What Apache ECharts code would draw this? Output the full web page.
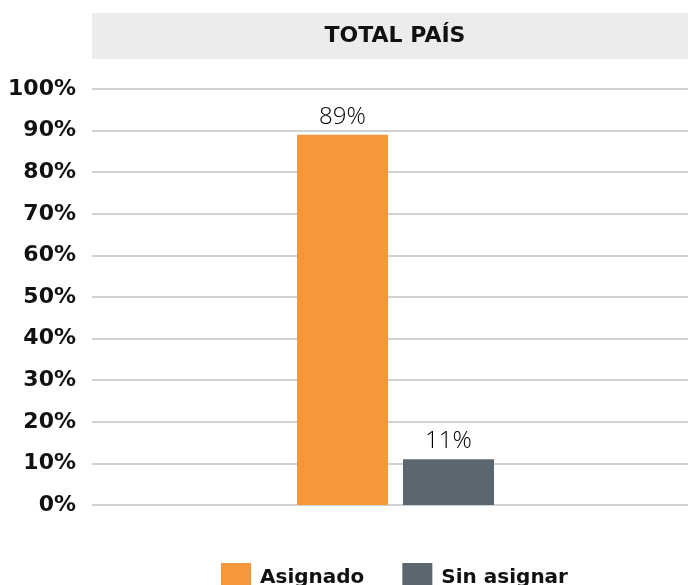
<!DOCTYPE html>
<html>
<head>
<meta charset="utf-8">
<script src="https://cdn.jsdelivr.net/npm/echarts@6/dist/echarts.min.js"></script>
<style>
  html, body { margin: 0; padding: 0; background: #fff; }
  #chart { width: 688px; height: 585px; }
</style>
</head>
<body>
<div id="chart"></div>
<script>
// data
const categories = ["TOTAL PAÍS"];
const seriesNames = ["Asignado", "Sin asignar"];
const asignado = [89];
const sinAsignar = [11];
const yTicks = { min: 0, max: 100, step: 10 };

const colors = ["#f7963a", "#5b6770"];
const boldFont = "DejaVu Sans";

let myChart = echarts.init(document.getElementById("chart"));

let barLabel = {
  show: true,
  position: "top",
  distance: 6,
  formatter: "{c}%",
  color: "#000",
  fontFamily: "Open Sans",
  fontWeight: 300,
  fontSize: 24,
};

// grid 0 carries the y labels and grid lines, grid 1 the bars (shifted a bit right)
let option = {
  animation: false,
  color: colors,
  graphic: [
    {
      type: "rect",
      left: 92,
      top: 13,
      shape: { width: 596, height: 46 },
      style: { fill: "#ebecee" },
      z: 0,
    },
    {
      type: "text",
      x: 395,
      y: 36,
      style: {
        text: categories[0],
        fill: "#111",
        font: "bold 22px " + boldFont,
        textAlign: "center",
        textVerticalAlign: "middle",
      },
      z: 1,
    },
  ],
  legend: {
    data: seriesNames,
    left: 216,
    top: 558,
    itemWidth: 30,
    itemHeight: 30,
    itemGap: 38,
    icon: "rect",
    textStyle: {
      fontFamily: boldFont,
      fontWeight: "bold",
      fontSize: 20,
      color: "#111",
      padding: [0, 0, 0, 4],
    },
  },
  grid: [
    { left: 92, right: 0, top: 89, bottom: 80 },
    { left: 103, right: 0, top: 89, bottom: 80 },
  ],
  xAxis: [
    {
      type: "category",
      gridIndex: 0,
      data: categories,
      axisLine: { show: false },
      axisTick: { show: false },
      axisLabel: { show: false },
    },
    {
      type: "category",
      gridIndex: 1,
      data: categories,
      axisLine: { show: false },
      axisTick: { show: false },
      axisLabel: { show: false },
    },
  ],
  yAxis: [
    {
      type: "value",
      gridIndex: 0,
      min: yTicks.min,
      max: yTicks.max,
      interval: yTicks.step,
      axisLine: { show: false },
      axisTick: { show: false },
      axisLabel: {
        formatter: "{value}%",
        margin: 16,
        fontFamily: boldFont,
        fontWeight: "bold",
        fontSize: 22,
        color: "#111",
      },
      splitLine: {
        lineStyle: { color: "#cfd2d5", width: 2 },
      },
    },
    {
      type: "value",
      gridIndex: 1,
      min: yTicks.min,
      max: yTicks.max,
      interval: yTicks.step,
      show: false,
    },
  ],
  series: [
    {
      name: seriesNames[0],
      type: "bar",
      xAxisIndex: 1,
      yAxisIndex: 1,
      data: asignado,
      barWidth: 91,
      barGap: "16.5%",
      label: barLabel,
    },
    {
      name: seriesNames[1],
      type: "bar",
      xAxisIndex: 1,
      yAxisIndex: 1,
      data: sinAsignar,
      barWidth: 91,
      label: barLabel,
    },
  ],
};

myChart.setOption(option);
</script>
</body>
</html>
